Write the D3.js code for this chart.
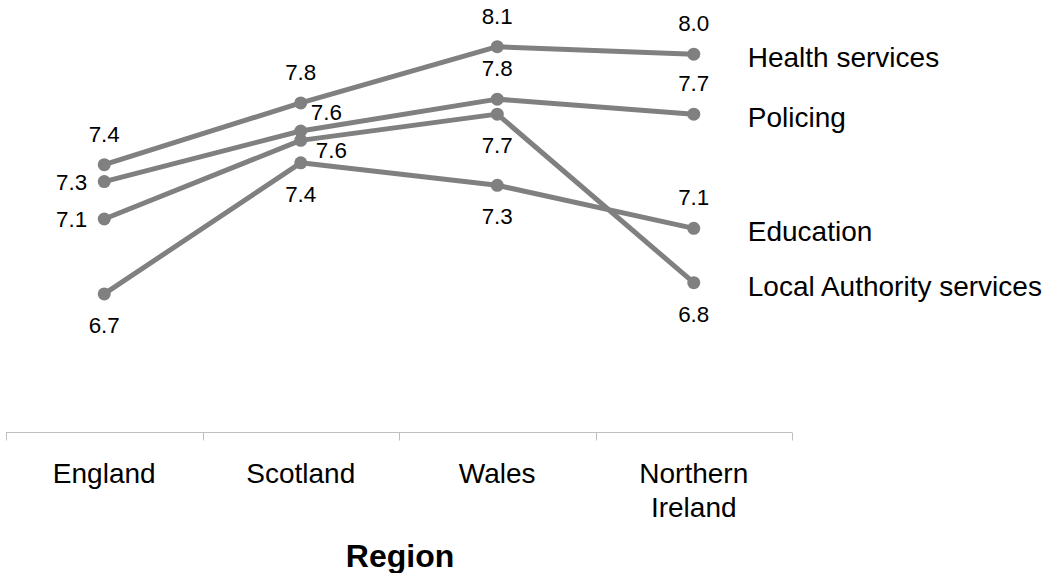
<!DOCTYPE html>
<html>
<head>
<meta charset="utf-8">
<script src="https://cdn.jsdelivr.net/npm/d3@7"></script>
<style>
  html, body { margin: 0; padding: 0; background: #fff; }
  svg { display: block; font-family: "Liberation Sans", Arial, sans-serif; }
</style>
</head>
<body>
<svg id="chart" width="1052" height="573"></svg>
<script>
// Satisfaction scores by region for four public services
const regions = ["England", "Scotland", "Wales", "Northern Ireland"];
const seriesNames = ["Health services", "Policing", "Education", "Local Authority services"];
const healthValues = [7.43, 7.76, 8.06, 8.02];
const policingValues = [7.34, 7.61, 7.78, 7.70];
const educationValues = [6.74, 7.44, 7.32, 7.09];
const localAuthorityValues = [7.14, 7.56, 7.70, 6.80];
const axisTitle = "Region";

// where each value label sits relative to its point
const labelPlacement = [
  ["above", "above", "above", "above"],
  ["left", "upright", "above", "above"],
  ["below", "below", "below", "above"],
  ["left", "downright", "below", "below"]
];

const series = seriesNames.map((name, i) => ({
  name,
  values: [healthValues, policingValues, educationValues, localAuthorityValues][i],
  placement: labelPlacement[i]
}));

const svg = d3.select("#chart");
const lineColor = "#808080";

const x = d3.scaleBand().domain(regions).range([6, 792]);
const y = d3.scaleLinear().domain([6, 8.2]).range([432.5, 20.5]);
const cx = r => x(r) + x.bandwidth() / 2;

// category axis: baseline and boundary ticks
const axisY = y(6);
const boundaries = regions.map(r => x(r)).concat([x(regions[regions.length - 1]) + x.bandwidth()]);
const axis = svg.append("g").attr("class", "x-axis");
axis.append("line")
  .attr("x1", boundaries[0]).attr("x2", boundaries[boundaries.length - 1])
  .attr("y1", axisY).attr("y2", axisY)
  .attr("stroke", "#bfbfbf").attr("stroke-width", 1);
axis.selectAll("line.tick").data(boundaries).join("line")
  .attr("class", "tick")
  .attr("x1", d => Math.round(d) + 0.5).attr("x2", d => Math.round(d) + 0.5)
  .attr("y1", axisY).attr("y2", axisY + 8)
  .attr("stroke", "#bfbfbf").attr("stroke-width", 1);

// category labels, wrapped to the band width
const catLabels = axis.selectAll("text.cat").data(regions).join("text")
  .attr("class", "cat")
  .attr("x", d => cx(d))
  .attr("y", axisY + 50)
  .attr("text-anchor", "middle")
  .attr("font-size", 28)
  .attr("fill", "#000");
catLabels.each(function (d) {
  const t = d3.select(this);
  const words = d.split(" ");
  let line = [];
  let tspan = t.append("tspan").attr("x", cx(d)).attr("dy", 0);
  words.forEach(w => {
    line.push(w);
    tspan.text(line.join(" "));
    if (tspan.node().getComputedTextLength() > x.bandwidth() - 4 && line.length > 1) {
      line.pop();
      tspan.text(line.join(" "));
      line = [w];
      tspan = t.append("tspan").attr("x", cx(d)).attr("dy", 34).text(w);
    }
  });
});

// axis title
svg.append("text")
  .attr("x", 400)
  .attr("y", 567)
  .attr("text-anchor", "middle")
  .attr("font-size", 32)
  .attr("font-weight", "bold")
  .attr("fill", "#000")
  .text(axisTitle);

// lines
const line = d3.line()
  .x((d, i) => cx(regions[i]))
  .y(d => y(d));

const g = svg.append("g");
g.selectAll("path.series").data(series).join("path")
  .attr("class", "series")
  .attr("d", d => line(d.values))
  .attr("fill", "none")
  .attr("stroke", lineColor)
  .attr("stroke-width", 5)
  .attr("stroke-linejoin", "round");

// markers
series.forEach(s => {
  g.selectAll(null).data(s.values).join("circle")
    .attr("cx", (d, i) => cx(regions[i]))
    .attr("cy", d => y(d))
    .attr("r", 6.5)
    .attr("fill", lineColor);
});

// value labels
const fmt = d3.format(".1f");
const place = {
  above: { dx: 0, dy: -23, anchor: "middle" },
  below: { dx: 0, dy: 39, anchor: "middle" },
  left: { dx: -17, dy: 8, anchor: "end" },
  upright: { dx: 10, dy: -11, anchor: "start" },
  downright: { dx: 15, dy: 18, anchor: "start" }
};
series.forEach(s => {
  svg.append("g").selectAll("text").data(s.values).join("text")
    .attr("x", (d, i) => cx(regions[i]) + place[s.placement[i]].dx)
    .attr("y", (d, i) => y(d) + place[s.placement[i]].dy)
    .attr("text-anchor", (d, i) => place[s.placement[i]].anchor)
    .attr("font-size", 22.4)
    .attr("fill", "#000")
    .text(d => fmt(d));
});

// series names beside the last point
const last = regions.length - 1;
svg.append("g").selectAll("text").data(series).join("text")
  .attr("x", cx(regions[last]) + 54)
  .attr("y", d => y(d.values[last]) + 13)
  .attr("font-size", 28)
  .attr("fill", "#000")
  .text(d => d.name);
</script>
</body>
</html>
